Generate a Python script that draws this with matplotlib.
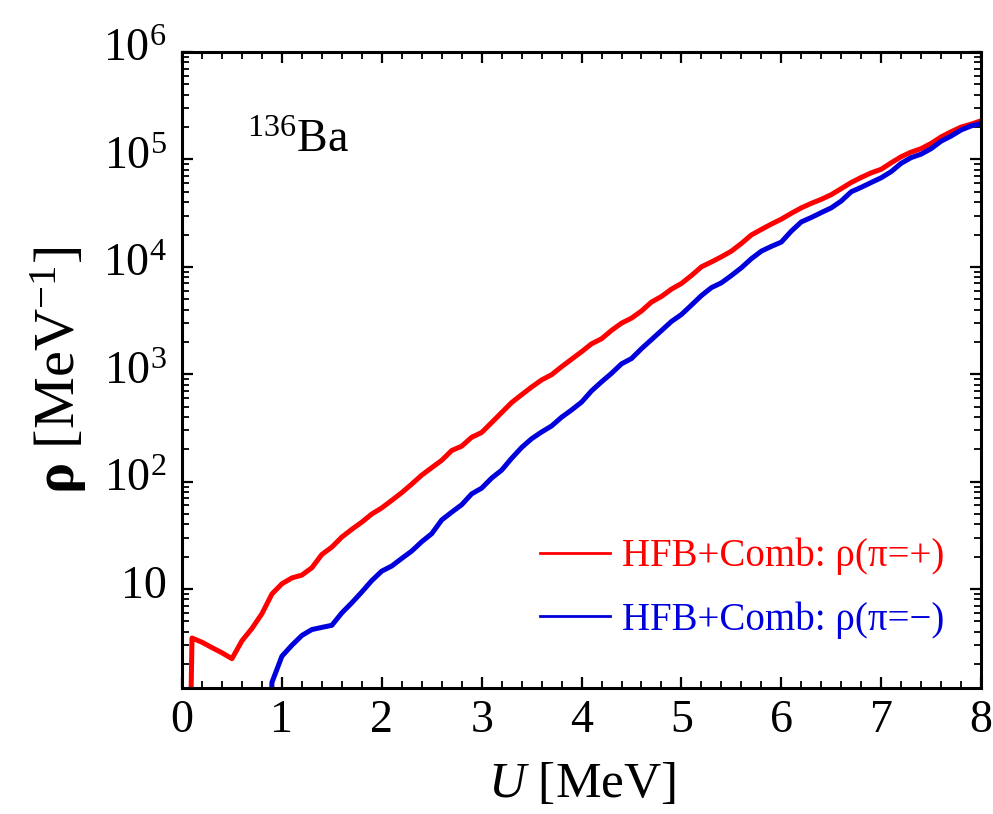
import numpy as np
import matplotlib
matplotlib.use("Agg")
import matplotlib.pyplot as plt
import matplotlib.transforms as mtrans
from matplotlib.lines import Line2D
from matplotlib.ticker import MultipleLocator, LogLocator, NullFormatter

plt.rcParams['font.family'] = 'Liberation Serif'
plt.rcParams['mathtext.fontset'] = 'custom'
plt.rcParams['mathtext.rm'] = 'Liberation Serif'
plt.rcParams['mathtext.it'] = 'Liberation Serif:italic'
plt.rcParams['mathtext.bf'] = 'Liberation Serif:bold'

# level density of 136Ba (0.1 MeV grid)
u_pos = np.round(np.arange(0.0, 8.01, 0.1), 1)
rho_pos = [1e-5, 3.5, 3.2, 2.85, 2.55, 2.25, 3.3, 4.3, 5.9, 9.0,
           11.2, 12.7, 13.5, 15.8, 21, 24.6, 30.5, 36, 42, 50,
           57, 67, 79, 95, 115, 135, 158, 195, 214, 259,
           287, 355, 440, 545, 645, 760, 885, 990, 1175, 1380,
           1620, 1920, 2140, 2560, 2990, 3330, 3880, 4700, 5300, 6200,
           7000, 8300, 10000, 11100, 12400, 14000, 16500, 19800, 22300, 25000,
           27800, 31500, 35400, 39000, 42500, 47000, 53500, 61000, 68000, 75000,
           81000, 93000, 106000, 117000, 126000, 141000, 162000, 181000, 200000, 213000,
           229000]

u_neg = np.round(np.arange(0.8, 8.01, 0.1), 1)
rho_neg = [1e-5, 1.35,
           2.37, 3.0, 3.7, 4.2, 4.4, 4.6, 6.0, 7.45, 9.4, 12.0,
           14.7, 16.4, 19.3, 22.6, 27.6, 32.8, 44, 52, 61, 77,
           87, 108, 128, 165, 208, 251, 290, 330, 398, 465,
           550, 700, 850, 1020, 1250, 1400, 1730, 2100, 2550, 3100,
           3600, 4400, 5400, 6400, 7100, 8300, 9800, 11900, 14000, 15500,
           17000, 21500, 26200, 28800, 32000, 35400, 41000, 50000, 55000, 61000,
           67500, 77000, 92000, 104000, 112000, 126000, 148000, 165000, 188000, 205000,
           216000]

ytick_vals = [10, 1e2, 1e3, 1e4, 1e5, 1e6]
ytick_labels = ['10', r'$10^{2}$', r'$10^{3}$', r'$10^{4}$', r'$10^{5}$', r'$10^{6}$']

red = '#ff0000'
blue = '#0000dd'

fig = plt.figure(figsize=(9.93, 8.14), dpi=100)
ax = fig.add_axes([0.1833, 0.1548, 0.8047, 0.7813])

ax.plot(u_pos, rho_pos, color=red, lw=3.6, solid_joinstyle='round')
ax.plot(u_neg, rho_neg, color=blue, lw=3.6, solid_joinstyle='round')

ax.set_yscale('log')
ax.set_xlim(0, 8)
ax.set_ylim(1.2, 1e6)

ax.set_yticks(ytick_vals)
ax.set_yticklabels(ytick_labels)
ax.yaxis.set_minor_locator(LogLocator(base=10, subs=np.arange(2, 10)))
ax.yaxis.set_minor_formatter(NullFormatter())
ax.xaxis.set_major_locator(MultipleLocator(1))
ax.xaxis.set_minor_locator(MultipleLocator(0.2))

ax.tick_params(which='both', direction='in', top=True, right=True)
ax.tick_params(which='major', length=8, width=1.6, labelsize=33)
ax.tick_params(axis='y', which='major', pad=11)
ax.tick_params(axis='x', which='major', pad=8)
ax.tick_params(which='minor', length=5, width=1.3)
for sp in ax.spines.values():
    sp.set_linewidth(2.2)

# y labels sit a little above their ticks in the original
shift = mtrans.ScaledTranslation(0, 5 / 72, fig.dpi_scale_trans)
for lab in ax.get_yticklabels():
    lab.set_transform(lab.get_transform() + shift)

ax.set_xlabel(r'$U$ [MeV]', fontsize=37, labelpad=14)
ax.set_ylabel(r'$\mathbf{\rho}$ [MeV$^{-1}$]', fontsize=42, labelpad=10)

ax.text(0.081, 0.843, r'$^{136}$Ba', transform=ax.transAxes, fontsize=33,
        ha='left', va='baseline')

handles = [Line2D([], [], color=red, lw=2), Line2D([], [], color=blue, lw=2)]
labels = ['HFB+Comb: ρ(π=+)', 'HFB+Comb: ρ(π=−)']
ax.legend(handles, labels, loc='upper left', bbox_to_anchor=(0.448, 0.236),
          frameon=False, fontsize=28, labelcolor='linecolor', borderpad=0,
          borderaxespad=0, handlelength=1.8, handletextpad=0.3, labelspacing=0.66)

fig.savefig('out.png', dpi=100)
